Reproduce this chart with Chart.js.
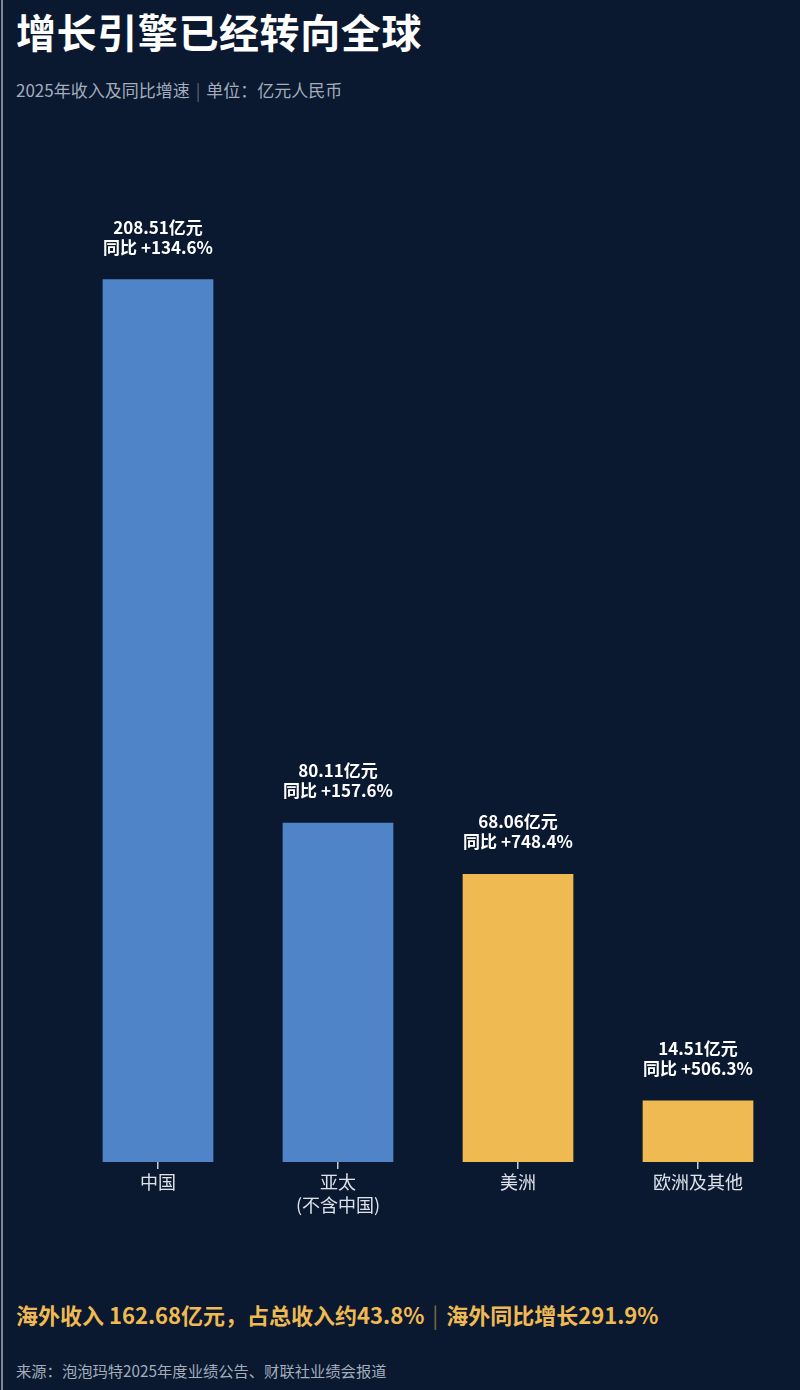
<!DOCTYPE html>
<html lang="zh">
<head>
<meta charset="utf-8">
<title>增长引擎已经转向全球</title>
<script src="https://cdn.jsdelivr.net/npm/chart.js@4/dist/chart.umd.min.js"></script>
<style>
  html, body { margin: 0; padding: 0; }
  body {
    width: 800px; height: 1390px; position: relative; overflow: hidden;
    background: #0a1830;
    font-family: "Noto Sans CJK SC", "Noto Sans", sans-serif;
  }
  .edge { position: absolute; left: 1px; top: 0; width: 2px; height: 1390px; background: #7d8696; }
  .title { position: absolute; left: 16px; top: 2px; color: #fff; font-size: 40px; font-weight: 700; letter-spacing: 0.6px; }
  .sub { position: absolute; left: 16px; top: 77px; color: #a3adbb; font-size: 17px; }
  .sub .bar { color: #5c6778; margin: 0 6px; }
  #box { position: absolute; left: 68px; top: 146px; width: 720px; height: 1104px; }
  .note { position: absolute; left: 16px; top: 1298px; color: #f0ba52; font-size: 22px; font-weight: 700; }
  .note .bar { color: #7d6a48; font-weight: 400; margin: 0 8px; }
  .src { position: absolute; left: 16px; top: 1359px; color: #a3adbb; font-size: 15.3px; }
</style>
</head>
<body>
<div class="edge"></div>
<div class="title">增长引擎已经转向全球</div>
<div class="sub">2025年收入及同比增速<span class="bar">|</span>单位：亿元人民币</div>
<div id="box"><canvas id="myChart"></canvas></div>
<div class="note">海外收入 162.68亿元，占总收入约43.8%<span class="bar">|</span>海外同比增长291.9%</div>
<div class="src">来源：泡泡玛特2025年度业绩公告、财联社业绩会报道</div>

<script>
const regions = [["中国"], ["亚太", "(不含中国)"], ["美洲"], ["欧洲及其他"]];
const revenue = [208.51, 80.11, 68.06, 14.51];
const growth = [134.6, 157.6, 748.4, 506.3];
const barColors = ["#4f84c9", "#4f84c9", "#efba52", "#efba52"];

// two lines of text above each bar
const barLabels = {
  id: "barLabels",
  afterDatasetsDraw(chart) {
    const ctx = chart.ctx;
    const meta = chart.getDatasetMeta(0);
    ctx.save();
    ctx.fillStyle = "#ffffff";
    ctx.textAlign = "center";
    ctx.textBaseline = "middle";
    ctx.font = "bold 17px 'Noto Sans CJK SC', sans-serif";
    meta.data.forEach((bar, i) => {
      ctx.fillText(revenue[i].toFixed(2) + "亿元", bar.x, bar.y - 52);
      ctx.fillText("同比 +" + growth[i].toFixed(1) + "%", bar.x, bar.y - 32);
    });
    ctx.restore();
  },
};

new Chart(document.getElementById("myChart"), {
  type: "bar",
  data: {
    labels: regions,
    datasets: [
      {
        data: revenue,
        backgroundColor: barColors,
        borderWidth: 0,
        barPercentage: 1,
        categoryPercentage: 0.615,
      },
    ],
  },
  options: {
    responsive: true,
    maintainAspectRatio: false,
    animation: false,
    layout: { padding: 0 },
    plugins: {
      legend: { display: false },
      tooltip: { enabled: false },
    },
    scales: {
      x: {
        border: { display: false },
        grid: {
          offset: false,
          drawOnChartArea: false,
          drawTicks: true,
          tickLength: 7,
          color: "#c9ced6",
          lineWidth: 1.5,
        },
        ticks: {
          color: "#dde2ea",
          padding: 2,
          font: { size: 18, family: "'Noto Sans CJK SC', sans-serif", lineHeight: 1.25 },
        },
        afterFit: (axis) => {
          axis.height = 88;
        },
      },
      y: {
        display: false,
        min: 0,
        max: 240,
      },
    },
  },
  plugins: [barLabels],
});
</script>
</body>
</html>
